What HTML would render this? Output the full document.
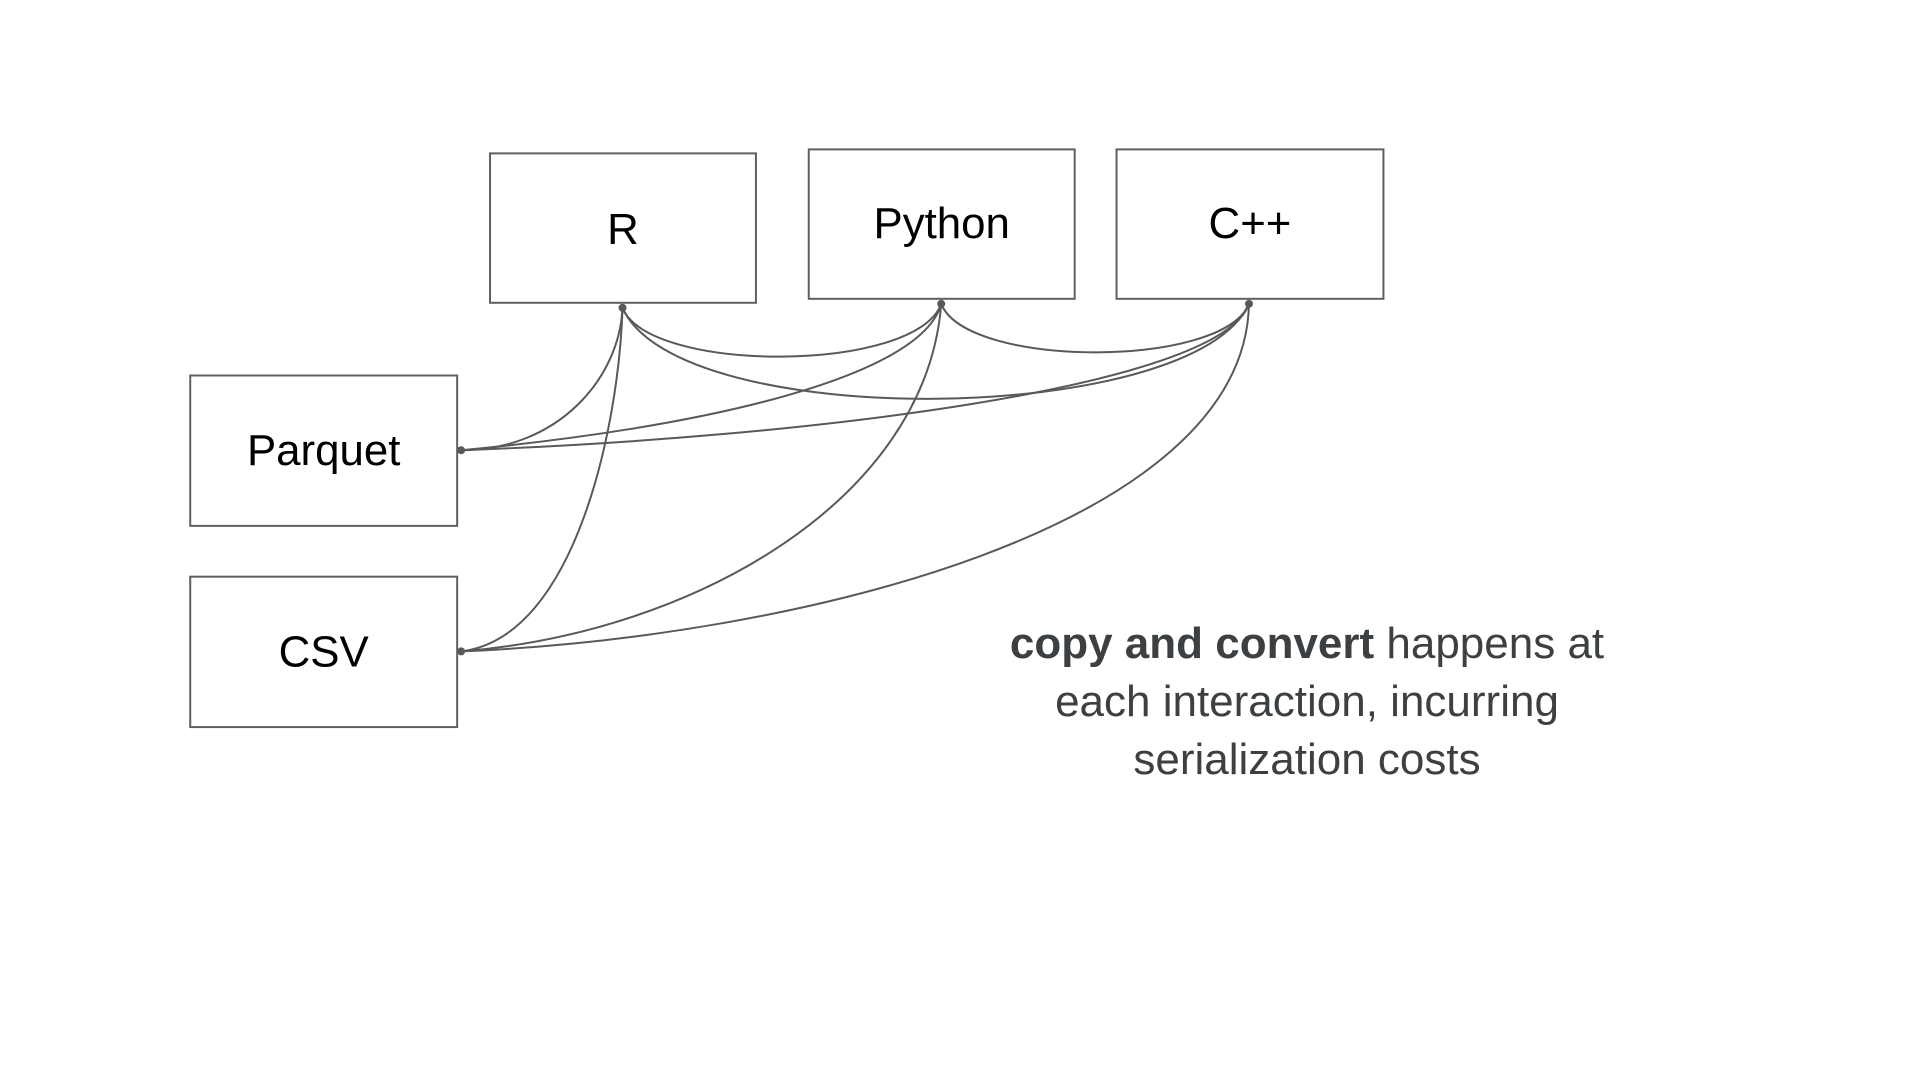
<!DOCTYPE html>
<html><head><meta charset="utf-8"><style>
html,body{margin:0;padding:0;background:#fff;}
body{width:1920px;height:1080px;position:relative;overflow:hidden;font-family:"Liberation Sans",sans-serif;}
#w{position:absolute;left:0;top:0;width:1920px;height:1080px;transform:scale(0.996);transform-origin:0 0;}
.b{position:absolute;box-sizing:border-box;border:2px solid #5f5f5f;background:#fff;display:flex;align-items:center;justify-content:center;font-size:44px;color:#000;}
.t{position:absolute;left:957px;width:700px;text-align:center;font-size:44px;line-height:58px;color:#3c4043;top:615px;letter-spacing:0;}
</style></head><body>
<div id="w">
<div class="b" style="left:491px;top:153px;width:269px;height:152px;padding-top:4px">R</div>
<div class="b" style="left:811px;top:149px;width:269px;height:152px">Python</div>
<div class="b" style="left:1120px;top:149px;width:270px;height:152px">C++</div>
<div class="b" style="left:190px;top:376px;width:270px;height:153px">Parquet</div>
<div class="b" style="left:190px;top:578px;width:270px;height:153px">CSV</div>
<svg width="1920" height="1080" style="position:absolute;left:0;top:0" fill="none" stroke="#595959" stroke-width="2">
<path d="M625 309 C650 375 920 375 945 305"/>
<path d="M945 305 C970 370 1229 370 1254 305"/>
<path d="M625 309 C680 435 1200 428 1254 305"/>
<path d="M463 452 C560 452 622 380 625 309"/>
<path d="M463 452 C700 430 925 380 945 305"/>
<path d="M463 452 C800 440 1225 390 1254 305"/>
<path d="M463 654 C580 640 622 420 625 309"/>
<path d="M463 654 C700 635 930 500 945 305"/>
<path d="M463 654 C800 640 1250 530 1254 305"/>
<g fill="#595959" stroke="none">
<circle cx="625" cy="309" r="4"/><circle cx="945" cy="305" r="4"/><circle cx="1254" cy="305" r="4"/>
<circle cx="463" cy="452" r="4"/><circle cx="463" cy="654" r="4"/>
</g>
</svg>
</div>
<div class="t"><b>copy and convert</b> happens at<br>each interaction, incurring<br>serialization costs</div>
</body></html>
